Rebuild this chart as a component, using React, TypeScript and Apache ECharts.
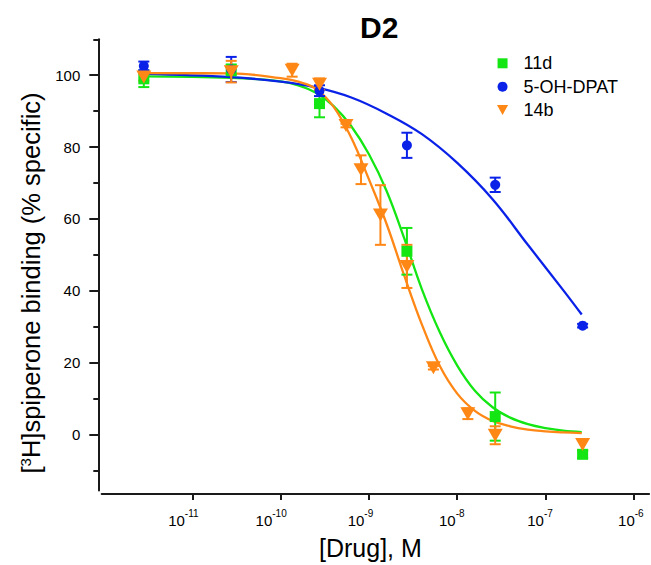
import React, { useEffect, useRef } from 'react';
import * as echarts from 'echarts';

const FONT = '"Liberation Sans", Arial, Helvetica, sans-serif';

// axis ticks
const xTickExponents = [-11, -10, -9, -8, -7, -6];
const yMajorTicks = [0, 20, 40, 60, 80, 100];
const yMinorTicks = [-10, 10, 30, 50, 70, 90, 110];

// data: log10 [Drug] (M), mean % specific binding, error
const logConc11d = [-11.55, -10.56, -9.56, -8.57, -7.57, -6.58];
const mean11d = [99, 101.5, 92.1, 51, 5, -5.5];
const err11d = [2.3, 1.5, 3.8, 6.5, 6.7, 1];

const logConcDPAT = [-11.55, -10.56, -9.56, -8.57, -7.57, -6.58];
const meanDPAT = [102.6, 101.6, 95.7, 80.5, 69.5, 30.3];
const errDPAT = [1.2, 3.5, 1.5, 3.5, 2, 0.5];

const logConc14b = [-11.55, -10.56, -9.87, -9.56, -9.26, -9.09, -8.87, -8.57, -8.27, -7.88, -7.57, -6.58];
const mean14b = [99.5, 101, 101.4, 97.5, 86, 73.7, 61.1, 46.8, 18.6, 5.8, -0.2, -2.8];
const err14b = [1, 3, 1.8, 1.6, 0.5, 4, 8.3, 6, 0.5, 1.5, 2.5, 1.5];

// fitted curves
const fitX11d = [-11.55, -10.56, -10.0, -9.8, -9.6, -9.4, -9.2, -9.0, -8.8, -8.6, -8.4, -8.2, -8.0, -7.8, -7.6, -7.4, -7.2, -7.0, -6.8, -6.59];
const fitY11d = [99.7, 99.3, 98.3, 97.2, 95.1, 91.4, 85.8, 78, 67.8, 54.6, 40.4, 28.6, 19.2, 12.2, 7.6, 4.7, 2.9, 1.8, 1.1, 0.7];

const fitXDPAT = [-11.55, -10.56, -10.0, -9.6, -9.2, -8.8, -8.4, -8.0, -7.6, -7.2, -6.8, -6.59];
const fitYDPAT = [100.4, 99.5, 98.2, 96.6, 93.8, 89.3, 83.6, 75.6, 65.5, 52.8, 40.2, 33.4];

const fitX14b = [-11.55, -10.56, -10.0, -9.8, -9.6, -9.4, -9.2, -9.0, -8.8, -8.6, -8.4, -8.2, -8.0, -7.8, -7.6, -7.4, -7.2, -7.0, -6.8, -6.59];
const fitY14b = [100.6, 100.5, 99.2, 98.2, 96.2, 91.2, 82.6, 71, 58.6, 44.2, 30.6, 19.2, 11.4, 6.6, 3.8, 2.3, 1.4, 0.9, 0.6, 0.4];

const GREEN = '#14e614';
const BLUE = '#0a22e8';
const ORANGE = '#ff8716';
const AXIS = '#1a1a1a';

// label spacers (Origin places the exponent labels slightly left of the ticks)
const spacer: Record<string, number> = { '-11': 18, '-10': 19, '-9': 17, '-8': 11, '-7': 11, '-6': 6 };

function pairs(xs: number[], ys: number[]) {
  return xs.map((x, i) => [x, ys[i]]);
}

function curve(name: string, xs: number[], ys: number[], color: string) {
  return {
    type: 'line',
    name: name + ' fit',
    data: pairs(xs, ys),
    symbol: 'none',
    showSymbol: false,
    smooth: 0.4,
    lineStyle: { color, width: 2.3 },
    itemStyle: { color },
    z: 2,
    silent: true,
  };
}

function errorBars(name: string, xs: number[], ys: number[], es: number[], color: string) {
  return {
    type: 'custom',
    name: name + ' error',
    data: xs.map((x, i) => [x, ys[i], es[i]]),
    encode: { x: 0, y: 1 },
    z: 3,
    silent: true,
    renderItem: (_params: any, api: any) => {
      const x = api.value(0);
      const y = api.value(1);
      const e = api.value(2);
      const top = api.coord([x, y + e]);
      const bot = api.coord([x, y - e]);
      const hw = 5.5;
      const style = { stroke: color, lineWidth: 2, fill: null };
      return {
        type: 'group',
        children: [
          { type: 'line', shape: { x1: top[0], y1: top[1], x2: bot[0], y2: bot[1] }, style },
          { type: 'line', shape: { x1: top[0] - hw, y1: top[1], x2: top[0] + hw, y2: top[1] }, style },
          { type: 'line', shape: { x1: bot[0] - hw, y1: bot[1], x2: bot[0] + hw, y2: bot[1] }, style },
        ],
      };
    },
  };
}

export default function App() {
  const ref = useRef<HTMLDivElement>(null);

  useEffect(() => {
    if (!ref.current) return;
    const chart = echarts.init(ref.current, null, { renderer: 'svg' });

    const yMin = -15.6;
    const yMax = 110;

    const option: any = {
      animation: false,
      backgroundColor: '#ffffff',
      textStyle: { fontFamily: FONT },
      title: {
        text: 'D2',
        left: 360,
        top: 12,
        padding: 0,
        textStyle: { fontSize: 30, fontWeight: 'bold', color: '#000', fontFamily: FONT },
      },
      legend: {
        orient: 'vertical',
        left: 497,
        top: 54.3,
        padding: 0,
        itemWidth: 32,
        itemHeight: 10,
        itemGap: 5.35,
        selectedMode: false,
        textStyle: { fontSize: 18, lineHeight: 18, color: '#000', fontFamily: FONT },
        data: [
          { name: '11d', icon: 'path://M0,0L10,0L10,10L0,10Z', itemStyle: { color: GREEN } },
          { name: '5-OH-DPAT', icon: 'circle', itemStyle: { color: BLUE } },
          { name: '14b', icon: 'path://M0,0L10,0L5,9Z', itemStyle: { color: ORANGE } },
        ],
      },
      grid: { left: 101.7, top: 39.3, width: 549.3, height: 452.3 },
      xAxis: {
        type: 'value',
        min: -12.027,
        max: -5.827,
        offset: 3.4,
        splitLine: { show: false },
        axisLine: { show: true, onZero: false, lineStyle: { color: AXIS, width: 2 } },
        axisTick: { show: true, customValues: xTickExponents, length: 6, lineStyle: { color: AXIS, width: 2 } },
        axisLabel: {
          customValues: xTickExponents,
          margin: 14,
          color: '#000',
          formatter: (v: number) => {
            const e = String(Math.round(v));
            return '{b|10}{s|' + e + '}{w' + spacer[e] + '| }';
          },
          rich: {
            b: { fontSize: 15, lineHeight: 20, verticalAlign: 'bottom', color: '#000', fontFamily: FONT },
            s: { fontSize: 10, lineHeight: 12, verticalAlign: 'top', color: '#000', fontFamily: FONT },
            w6: { width: 6, fontSize: 10 },
            w11: { width: 11, fontSize: 10 },
            w17: { width: 17, fontSize: 10 },
            w18: { width: 18, fontSize: 10 },
            w19: { width: 19, fontSize: 10 },
          },
        },
        name: '[Drug], M',
        nameLocation: 'middle',
        nameGap: 41,
        nameTextStyle: { fontSize: 25, color: '#000', fontFamily: FONT, padding: [0, 10, 0, 0] },
      },
      yAxis: [
        {
          type: 'value',
          min: yMin,
          max: yMax,
          offset: 3.4,
          splitLine: { show: false },
          axisLine: { show: true, onZero: false, lineStyle: { color: AXIS, width: 2 } },
          axisTick: { show: true, customValues: yMajorTicks, length: 9, lineStyle: { color: AXIS, width: 2 } },
          axisLabel: {
            customValues: yMajorTicks,
            margin: 18,
            fontSize: 15,
            color: '#000',
            fontFamily: FONT,
          },
          name: '[{sup|3}H]spiperone binding (% specific)',
          nameLocation: 'middle',
          nameRotate: 90,
          nameGap: 40,
          nameTextStyle: {
            fontSize: 25.5,
            color: '#000',
            fontFamily: FONT,
            padding: [0, 36, 0, 0],
            rich: {
              sup: { fontSize: 15, verticalAlign: 'top', color: '#000', fontFamily: FONT },
            },
          },
        },
        {
          type: 'value',
          min: yMin,
          max: yMax,
          position: 'left',
          offset: 3.4,
          splitLine: { show: false },
          axisLine: { show: false, onZero: false },
          axisLabel: { show: false },
          axisTick: { show: true, customValues: yMinorTicks, length: 5, lineStyle: { color: AXIS, width: 2 } },
        },
      ],
      series: [
        curve('11d', fitX11d, fitY11d, GREEN),
        curve('5-OH-DPAT', fitXDPAT, fitYDPAT, BLUE),
        curve('14b', fitX14b, fitY14b, ORANGE),
        errorBars('11d', logConc11d, mean11d, err11d, GREEN),
        errorBars('5-OH-DPAT', logConcDPAT, meanDPAT, errDPAT, BLUE),
        errorBars('14b', logConc14b, mean14b, err14b, ORANGE),
        {
          type: 'scatter',
          name: '11d',
          data: pairs(logConc11d, mean11d),
          symbol: 'rect',
          symbolSize: 11,
          itemStyle: { color: GREEN, opacity: 1 },
          z: 4,
        },
        {
          type: 'scatter',
          name: '5-OH-DPAT',
          data: pairs(logConcDPAT, meanDPAT),
          symbol: 'circle',
          symbolSize: 10,
          itemStyle: { color: BLUE, opacity: 1 },
          z: 4,
        },
        {
          type: 'scatter',
          name: '14b',
          data: pairs(logConc14b, mean14b),
          symbol: 'triangle',
          symbolRotate: 180,
          symbolSize: [15, 13],
          itemStyle: { color: ORANGE, opacity: 1 },
          z: 4,
        },
      ],
    };

    chart.setOption(option);
    return () => chart.dispose();
  }, []);

  return (
    <div
      ref={ref}
      style={{ position: 'absolute', left: 0, top: 0, width: 651, height: 565, background: '#fff' }}
    />
  );
}
